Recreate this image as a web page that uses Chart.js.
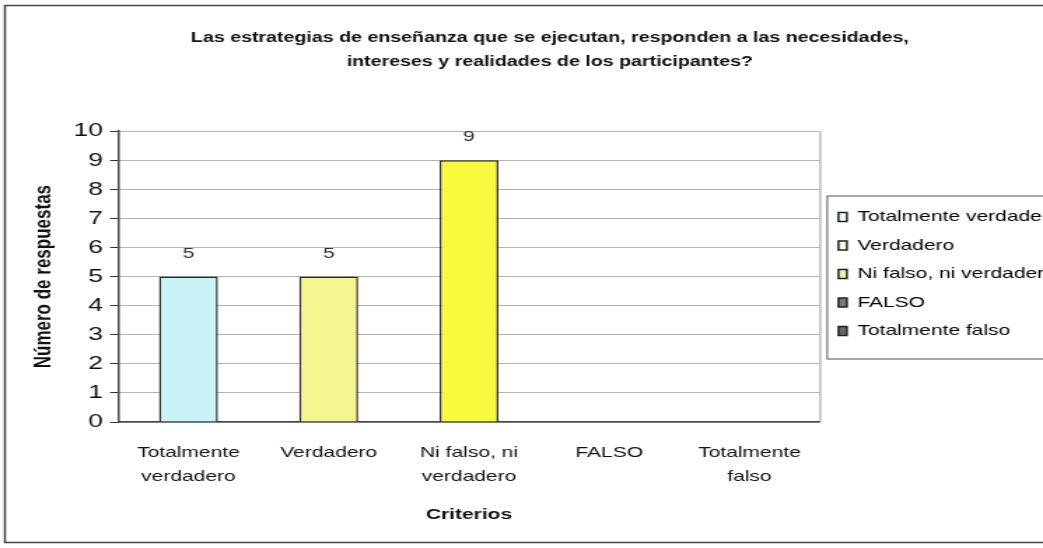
<!DOCTYPE html>
<html>
<head>
<meta charset="utf-8">
<script src="https://cdn.jsdelivr.net/npm/chart.js@4/dist/chart.umd.min.js"></script>
<style>
  html, body { margin: 0; padding: 0; background: #fff; overflow: hidden; }
  /* the scanned original is stretched sideways, so the whole chart is too */
  #wrap { width: 790px; height: 548px; transform: scaleX(1.4); transform-origin: 0 0; }
</style>
</head>
<body>
<div id="wrap"><canvas id="chart" width="790" height="548"></canvas></div>
<script>
const categories = ['Totalmente verdadero', 'Verdadero', 'Ni falso, ni verdadero', 'FALSO', 'Totalmente falso'];
const tickLabels = [['Totalmente', 'verdadero'], 'Verdadero', ['Ni falso, ni', 'verdadero'], 'FALSO', ['Totalmente', 'falso']];
const respuestas = [5, 5, 9, 0, 0];
const barColors = ['#c9f3f6', '#f6f690', '#f8f83c', '#7a7a7a', '#666666'];
const legendColors = ['#f4fbfb', '#fbfbe8', '#f3f3b0', '#7a7a7a', '#666666'];
const titleLines = ['Las estrategias de enseñanza que se ejecutan, responden a las necesidades,',
                    'intereses y realidades de los participantes?'];

const FONT = '"Liberation Sans", Arial, sans-serif';
Chart.defaults.font.family = FONT;
Chart.defaults.color = '#111';

// white background + outer frame of the chart object
const framePlugin = {
  id: 'frame',
  beforeDraw(chart) {
    const ctx = chart.ctx;
    ctx.save();
    ctx.fillStyle = '#fff';
    ctx.fillRect(0, 0, chart.width, chart.height);
    ctx.strokeStyle = '#444';
    ctx.lineWidth = 1.5;
    ctx.strokeRect(3.5, 5.5, chart.width + 20, 537);
    ctx.restore();
  }
};

// value labels over the bars, plot border on the right, box round the legend
const extrasPlugin = {
  id: 'extras',
  afterDatasetsDraw(chart) {
    const ctx = chart.ctx;
    const meta = chart.getDatasetMeta(0);
    ctx.save();
    ctx.font = '15px ' + FONT;
    ctx.fillStyle = '#333';
    ctx.textAlign = 'center';
    ctx.textBaseline = 'middle';
    meta.data.forEach((bar, i) => {
      if (respuestas[i] > 0) ctx.fillText(String(respuestas[i]), bar.x, bar.y - 23);
    });
    ctx.restore();
  },
  afterDraw(chart) {
    const ctx = chart.ctx;
    const a = chart.chartArea;
    ctx.save();
    ctx.strokeStyle = '#9a9a9a';
    ctx.lineWidth = 1;
    ctx.beginPath();
    ctx.moveTo(a.right + 0.5, a.top);
    ctx.lineTo(a.right + 0.5, a.bottom);
    ctx.stroke();

    const boxes = chart.legend.legendHitBoxes;
    if (boxes && boxes.length) {
      const top = boxes[0].top - 14;
      const last = boxes[boxes.length - 1];
      const bottom = last.top + last.height + 20;
      ctx.strokeStyle = '#555';
      ctx.lineWidth = 1;
      ctx.strokeRect(chart.legend.left + 5.5, top + 0.5, chart.width, bottom - top);
    }
    ctx.restore();
  }
};

new Chart(document.getElementById('chart'), {
  type: 'bar',
  data: {
    labels: tickLabels,
    datasets: [{
      label: 'Número de respuestas',
      data: respuestas,
      backgroundColor: barColors,
      borderColor: '#2a2a2a',
      borderWidth: 1.5,
      categoryPercentage: 1,
      barPercentage: 0.42
    }]
  },
  options: {
    responsive: false,
    animation: false,
    layout: { padding: { left: 18, right: 22.5, top: 0, bottom: 0 } },
    plugins: {
      title: {
        display: true,
        text: titleLines,
        color: '#111',
        font: { size: 14, weight: 'bold', lineHeight: 1.65 },
        padding: { top: 27, bottom: 58 }
      },
      legend: {
        position: 'right',
        onClick: null,
        labels: {
          boxWidth: 6,
          boxHeight: 9,
          padding: 13.5,
          color: '#111',
          font: { size: 15 },
          generateLabels: () => categories.map((c, i) => ({
            text: c,
            fillStyle: legendColors[i],
            strokeStyle: '#222',
            lineWidth: 1.5,
            hidden: false,
            index: i
          }))
        }
      },
      tooltip: { enabled: false }
    },
    scales: {
      x: {
        grid: { display: false },
        border: { display: true, color: '#444', width: 1.5 },
        ticks: { padding: 11, color: '#111', font: { size: 15, lineHeight: 1.6 } },
        title: {
          display: true,
          text: 'Criterios',
          color: '#111',
          font: { size: 15, weight: 'bold' },
          padding: { top: 6, bottom: 24 }
        }
      },
      y: {
        min: 0,
        max: 10,
        ticks: { stepSize: 1, padding: 5, color: '#111', font: { size: 19 } },
        grid: { color: '#b4b4b4', tickColor: '#333', tickLength: 6 },
        border: { display: true, color: '#444', width: 1.5 },
        title: {
          display: true,
          text: 'Número de respuestas',
          color: '#111',
          font: { size: 17, weight: 'bold' },
          padding: { top: 3, bottom: 6 }
        }
      }
    }
  },
  plugins: [framePlugin, extrasPlugin]
});
</script>
</body>
</html>
